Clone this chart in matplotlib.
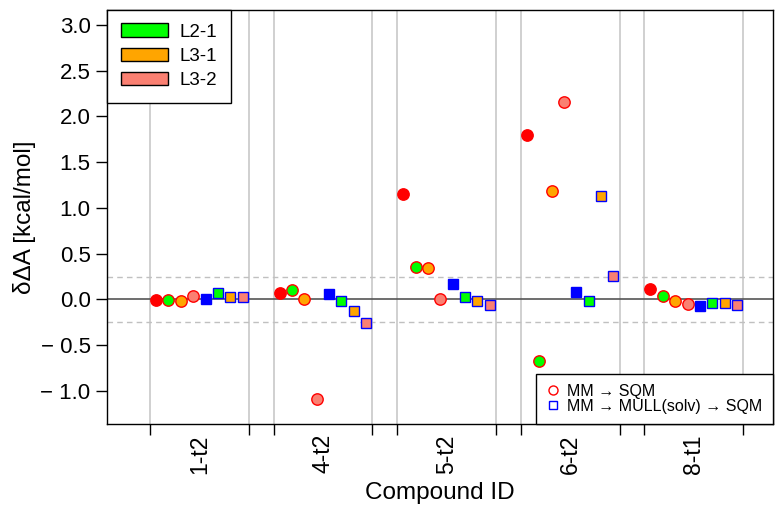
import numpy as np
import matplotlib
matplotlib.use('Agg')
import matplotlib.pyplot as plt
from matplotlib.patches import Patch
from matplotlib.lines import Line2D

plt.rcParams['font.family'] = ['Liberation Sans', 'DejaVu Sans']

# compounds (x groups)
compounds = ['1-t2', '4-t2', '5-t2', '6-t2', '8-t1']

# MM -> SQM (circles)
circ_ref = [-0.01, 0.07, 1.15, 1.80, 0.11]
circ_l21 = [-0.01, 0.10, 0.35, -0.67, 0.04]
circ_l31 = [-0.02, 0.00, 0.34, 1.19, -0.02]
circ_l32 = [0.04, -1.09, 0.00, 2.16, -0.05]

# MM -> MULL(solv) -> SQM (squares)
sq_ref = [0.01, 0.06, 0.17, 0.08, -0.07]
sq_l21 = [0.07, -0.02, 0.03, -0.02, -0.04]
sq_l31 = [0.03, -0.13, -0.02, 1.13, -0.04]
sq_l32 = [0.03, -0.26, -0.06, 0.26, -0.06]

level_names = ['L2-1', 'L3-1', 'L3-2']
level_colors = ['#00ff00', '#ffa500', '#fa8072']

fig = plt.figure(figsize=(7.83, 5.12), dpi=100)
ax = fig.add_axes([0.137, 0.171, 0.850, 0.8095])

base = np.arange(len(compounds)) * 10

# grid lines
for b in base:
    ax.axvline(b, color='#c8c8c8', lw=1.2, zorder=0)
    ax.axvline(b + 8, color='#c8c8c8', lw=1.2, zorder=0)
ax.axhline(0, color='#555555', lw=1.2, zorder=1)
for yy in (-0.25, 0.25):
    ax.axhline(yy, color='#c0c0c0', lw=1.0, ls=(0, (4, 3)), zorder=1)

circ_series = [circ_ref, circ_l21, circ_l31, circ_l32]
sq_series = [sq_ref, sq_l21, sq_l31, sq_l32]
faces = ['red'] + level_colors
sq_faces = ['blue'] + level_colors

ms_c = 8.2
ms_s = 7.6
for i, (vals, fc) in enumerate(zip(circ_series, faces)):
    ax.plot(base + i + 0.5, vals, 'o', ms=ms_c, mfc=fc, mec='red',
            mew=1.0, ls='none', zorder=3)
for i, (vals, fc) in enumerate(zip(sq_series, sq_faces)):
    ax.plot(base + i + 4.5, vals, 's', ms=ms_s, mfc=fc, mec='blue',
            mew=1.0, ls='none', zorder=3)

ax.set_xlim(-3.45, 50.4)
ax.set_ylim(-1.366, 3.164)

# y axis
yt = [-1.0, -0.5, 0.0, 0.5, 1.0, 1.5, 2.0, 2.5, 3.0]
ax.set_yticks(yt)
ax.set_yticklabels([('\u2212 %.1f' % -v) if v < 0 else '%.1f' % v for v in yt])
ax.tick_params(axis='y', length=8, width=1, pad=4, labelsize=16)
ax.set_ylabel('δΔA [kcal/mol]', fontsize=17.5, labelpad=3)

# x axis
ax.set_xticks(np.concatenate([base, base + 8]))
ax.set_xticklabels([])
ax.set_xticks(base + 4, minor=True)
ax.set_xticklabels(compounds, minor=True, rotation=90)
ax.tick_params(axis='x', which='major', length=8, width=1)
ax.tick_params(axis='x', which='minor', length=0, pad=7, labelsize=16.5)
ax.set_xlabel('Compound ID', fontsize=17.5, labelpad=6)

for s in ax.spines.values():
    s.set_linewidth(1.0)
    s.set_color('black')

# legends
h1 = [Patch(facecolor=c, edgecolor='black', lw=1) for c in level_colors]
leg1 = ax.legend(h1, level_names, loc='upper left', bbox_to_anchor=(0, 1),
                 borderaxespad=0, fancybox=False, framealpha=1,
                 edgecolor='black', fontsize=13.5, handlelength=2.5,
                 handleheight=0.7, labelspacing=0.38, handletextpad=0.65,
                 borderpad=0.72)
leg1.get_frame().set_linewidth(1.0)
leg1.set_zorder(5)
ax.add_artist(leg1)

h2 = [Line2D([], [], marker='o', ls='none', mfc='none', mec='red', ms=6.5, mew=1),
      Line2D([], [], marker='s', ls='none', mfc='none', mec='blue', ms=5.5, mew=1)]
leg2 = ax.legend(h2, ['MM \u2192 SQM', 'MM \u2192 MULL(solv) \u2192 SQM'],
                 loc='lower right', bbox_to_anchor=(1, 0), borderaxespad=0,
                 fancybox=False, framealpha=1, edgecolor='black', fontsize=11.5,
                 handlelength=0.8, handletextpad=0.5, labelspacing=0.0,
                 borderpad=0.65)
leg2.get_frame().set_linewidth(1.0)
leg2.set_zorder(5)

fig.savefig('out.png', dpi=100)
